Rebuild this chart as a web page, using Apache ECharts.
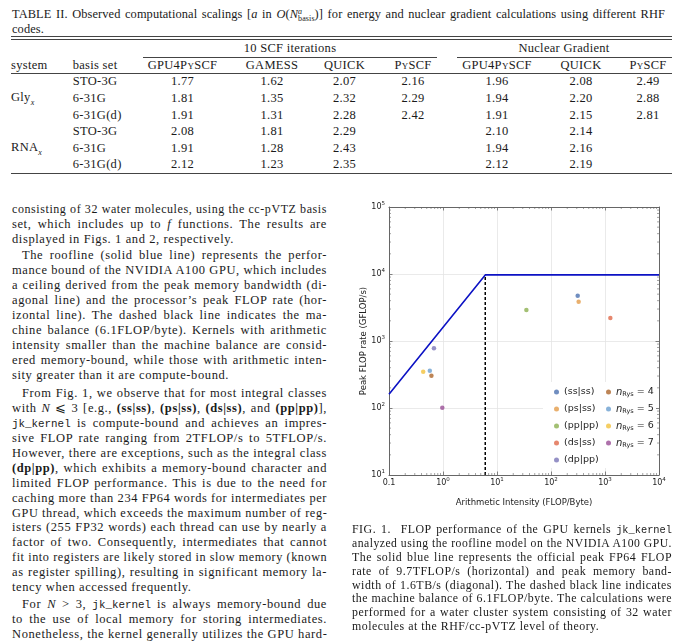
<!DOCTYPE html>
<html>
<head>
<meta charset="utf-8">
<script src="https://cdn.jsdelivr.net/npm/echarts@6/dist/echarts.min.js"></script>
<style>
  html, body { margin: 0; padding: 0; background: #fff; }
  body { width: 680px; height: 643px; position: relative; overflow: hidden; color: #1a1a1a; }
  .ln { position: absolute; white-space: nowrap; font-family: 'Liberation Serif', serif; font-size: 12.5px; letter-spacing: 0.6px; line-height: 15px; height: 15px; }
  .j { text-align: justify; text-align-last: justify; }
  .body { left: 12px; width: 315px; }
  .ind { left: 22px; width: 305px; }
  .cap { left: 352px; width: 320px; font-size: 11.9px; letter-spacing: 0.5px; line-height: 14px; height: 14px; }
  .tcap { font-size: 12.4px; letter-spacing: 0.1px; }
  tt { font-family: 'Liberation Mono', monospace; font-size: 0.87em; letter-spacing: 0; }
  .sc { font-variant: small-caps; }
  .rule { position: absolute; height: 0; border-top: 0.8px solid #444; }
  .cell { position: absolute; white-space: nowrap; font-family: 'Liberation Serif', serif; font-size: 12.5px; letter-spacing: 0.3px; line-height: 15px; height: 15px; }
  .ctr { width: 100px; text-align: center; }
  #chart { position: absolute; left: 340px; top: 195px; width: 340px; height: 330px; }
</style>
</head>
<body>

<!-- table caption -->
<div class="ln j tcap" style="left:12px;width:653px;top:7px;">TABLE II. Observed computational scalings [<i>a</i> in <i>O</i>(<i>N</i><span style="display:inline-block;vertical-align:-3px;line-height:7px;font-size:8px;text-align:left"><i>a</i><br>basis</span>)] for energy and nuclear gradient calculations using different RHF</div>
<div class="ln tcap" style="left:12px;top:22px;">codes.</div>

<div id="table"></div>

<!-- left column text -->
<div class="ln j body" style="top:202px;">consisting of 32 water molecules, using the cc-pVTZ basis</div>
<div class="ln j body" style="top:217px;">set, which includes up to <i>f</i> functions. The results are</div>
<div class="ln body" style="top:232px;">displayed in Figs. 1 and 2, respectively.</div>

<div class="ln j ind" style="top:248px;">The roofline (solid blue line) represents the perfor-</div>
<div class="ln j body" style="top:263px;">mance bound of the NVIDIA A100 GPU, which includes</div>
<div class="ln j body" style="top:278px;">a ceiling derived from the peak memory bandwidth (di-</div>
<div class="ln j body" style="top:293px;">agonal line) and the processor’s peak FLOP rate (hor-</div>
<div class="ln j body" style="top:308px;">izontal line). The dashed black line indicates the ma-</div>
<div class="ln j body" style="top:323px;">chine balance (6.1FLOP/byte). Kernels with arithmetic</div>
<div class="ln j body" style="top:338px;">intensity smaller than the machine balance are consid-</div>
<div class="ln j body" style="top:353px;">ered memory-bound, while those with arithmetic inten-</div>
<div class="ln body" style="top:368px;">sity greater than it are compute-bound.</div>

<div class="ln j ind" style="top:386px;">From Fig. 1, we observe that for most integral classes</div>
<div class="ln j body" style="top:401px;">with <i>N</i> ⩽ 3 [e.g., <b>(ss|ss)</b>, <b>(ps|ss)</b>, <b>(ds|ss)</b>, and <b>(pp|pp)</b>],</div>
<div class="ln j body" style="top:416px;"><tt>jk_kernel</tt> is compute-bound and achieves an impres-</div>
<div class="ln j body" style="top:431px;">sive FLOP rate ranging from 2TFLOP/s to 5TFLOP/s.</div>
<div class="ln j body" style="top:446px;">However, there are exceptions, such as the integral class</div>
<div class="ln j body" style="top:461px;"><b>(dp|pp)</b>, which exhibits a memory-bound character and</div>
<div class="ln j body" style="top:476px;">limited FLOP performance. This is due to the need for</div>
<div class="ln j body" style="top:491px;">caching more than 234 FP64 words for intermediates per</div>
<div class="ln j body" style="top:506px;">GPU thread, which exceeds the maximum number of reg-</div>
<div class="ln j body" style="top:520px;">isters (255 FP32 words) each thread can use by nearly a</div>
<div class="ln j body" style="top:535px;">factor of two. Consequently, intermediates that cannot</div>
<div class="ln j body" style="top:550px;">fit into registers are likely stored in slow memory (known</div>
<div class="ln j body" style="top:565px;">as register spilling), resulting in significant memory la-</div>
<div class="ln body" style="top:580px;">tency when accessed frequently.</div>

<div class="ln j ind" style="top:597px;">For <i>N</i> &gt; 3, <tt>jk_kernel</tt> is always memory-bound due</div>
<div class="ln j body" style="top:612px;">to the use of local memory for storing intermediates.</div>
<div class="ln j body" style="top:627px;">Nonetheless, the kernel generally utilizes the GPU hard-</div>

<!-- figure -->
<div id="chart"></div>

<div class="ln j cap" style="top:522px;">FIG. 1.&nbsp; FLOP performance of the GPU kernels <tt>jk_kernel</tt></div>
<div class="ln j cap" style="top:536px;">analyzed using the roofline model on the NVIDIA A100 GPU.</div>
<div class="ln j cap" style="top:550px;">The solid blue line represents the official peak FP64 FLOP</div>
<div class="ln j cap" style="top:564px;">rate of 9.7TFLOP/s (horizontal) and peak memory band-</div>
<div class="ln j cap" style="top:578px;">width of 1.6TB/s (diagonal). The dashed black line indicates</div>
<div class="ln j cap" style="top:591px;">the machine balance of 6.1FLOP/byte. The calculations were</div>
<div class="ln j cap" style="top:605px;">performed for a water cluster system consisting of 32 water</div>
<div class="ln cap" style="top:619px;">molecules at the RHF/cc-pVTZ level of theory.</div>

<script>
// ---- table data ----
const systems = ['Gly', 'RNA'];
const basisSets = ['STO-3G', '6-31G', '6-31G(d)'];
const codeHeaders = ['GPU4P<span class="sc">y</span>SCF', 'GAMESS', 'QUICK', 'P<span class="sc">y</span>SCF',
                     'GPU4P<span class="sc">y</span>SCF', 'QUICK', 'P<span class="sc">y</span>SCF'];
const scalingRows = [
  ['1.77', '1.62', '2.07', '2.16', '1.96', '2.08', '2.49'],
  ['1.81', '1.35', '2.32', '2.29', '1.94', '2.20', '2.88'],
  ['1.91', '1.31', '2.28', '2.42', '1.91', '2.15', '2.81'],
  ['2.08', '1.81', '2.29', '',     '2.10', '2.14', ''],
  ['1.91', '1.28', '2.43', '',     '1.94', '2.16', ''],
  ['2.12', '1.23', '2.35', '',     '2.12', '2.19', '']
];

// ---- chart data ----
const classNames = ['(ss|ss)', '(ps|ss)', '(pp|pp)', '(ds|ss)', '(dp|pp)'];
const classIntensity = [312, 325, 35, 1256, 0.68];
const classRate = [4750, 3865, 2900, 2204, 777];
const classColors = ['#4c72b0', '#e39c4a', '#8cb050', '#e0694a', '#7b76b8'];

const rysNames = ['nRys = 4', 'nRys = 5', 'nRys = 6', 'nRys = 7'];
const rysIntensity = [0.61, 0.57, 0.43, 0.97];
const rysRate = [304, 361, 348, 101];
const rysColors = ['#ad662c', '#6a9fd0', '#f2c23c', '#9a4e96'];

const rooflineX = [0.1, 6.06, 10000];
const rooflineY = [160, 9700, 9700];
const balanceX = [6.06, 6.06];
const balanceY = [10, 9700];

// minor log ticks (2..9 in each decade)
const minorSteps = [2, 3, 4, 5, 6, 7, 8, 9];
const xDecades = [0.1, 1, 10, 100, 1000];
const yDecades = [10, 100, 1000, 10000];

// ---- build table ----
const tbl = document.getElementById('table');
function add(html, cls, style) {
  const d = document.createElement('div');
  d.className = cls;
  d.setAttribute('style', style);
  d.innerHTML = html;
  tbl.appendChild(d);
}
const colCenters = [182.5, 272, 344.5, 413, 497, 581, 648];
const rowY = [82.3, 99, 115.7, 132.3, 148.7, 165.3];

add('', 'rule', 'left:11px;width:661px;top:36px;');
add('', 'rule', 'left:11px;width:661px;top:38.7px;');
add('10 SCF iterations', 'cell ctr', 'left:' + (290 - 50) + 'px;top:' + (49 - 8) + 'px;');
add('Nuclear Gradient', 'cell ctr', 'left:' + (564 - 50) + 'px;top:' + (49 - 8) + 'px;');
add('', 'rule', 'left:143px;width:294px;top:56.7px;');
add('', 'rule', 'left:457px;width:215px;top:56.7px;');
add('system', 'cell', 'left:11px;top:' + (65.7 - 8) + 'px;');
add('basis set', 'cell', 'left:72.7px;top:' + (65.7 - 8) + 'px;');
codeHeaders.forEach((h, i) => add(h, 'cell ctr', 'left:' + (colCenters[i] - 50) + 'px;top:' + (65.7 - 8) + 'px;'));
add('', 'rule', 'left:11px;width:661px;top:72.7px;');
scalingRows.forEach((row, r) => {
  add(basisSets[r % 3], 'cell', 'left:72.7px;top:' + (rowY[r] - 8) + 'px;');
  row.forEach((v, i) => add(v, 'cell ctr', 'left:' + (colCenters[i] - 50) + 'px;top:' + (rowY[r] - 8) + 'px;'));
});
systems.forEach((s, k) => add(s + '<sub style="font-size:8px;"><i>x</i></sub>', 'cell', 'left:11px;top:' + (rowY[1 + 3 * k] - 9) + 'px;'));
add('', 'rule', 'left:11px;width:661px;top:173.3px;');

// squeeze lines that are wider than their box
document.querySelectorAll('.j').forEach(el => {
  const w = el.clientWidth, s = el.scrollWidth;
  if (s > w + 0.5) {
    el.style.width = s + 'px';
    el.style.transformOrigin = '0 0';
    el.style.transform = 'scaleX(' + (w / s) + ')';
  }
});

// ---- chart ----
const axisColor = '#666';
const font = 'DejaVu Sans';
const powLabel = v => {
  if (v < 0.5) return '{b|0.1}';
  return '{b|10}{e|' + Math.round(Math.log10(v)) + '}';
};
const labelRich = {
  b: { fontSize: 8, lineHeight: 12, fontFamily: font, color: '#222' },
  e: { fontSize: 5.5, verticalAlign: 'top', fontFamily: font, color: '#222' }
};

function edgeAxis(extra) {
  return Object.assign({
    type: 'log',
    logBase: 10,
    axisLine: { show: true, onZero: false, lineStyle: { color: axisColor, width: 1 } },
    axisTick: { show: true, inside: true, length: 3.5, lineStyle: { color: axisColor, width: 0.8 } },
    minorTick: { show: false },
    splitLine: { show: false },
    axisLabel: { show: false }
  }, extra);
}

const xMain = {
  min: 0.1, max: 10000, position: 'bottom',
  name: 'Arithmetic Intensity (FLOP/Byte)', nameLocation: 'middle', nameGap: 23,
  nameTextStyle: { fontSize: 8.5, fontFamily: font, color: '#222' },
  axisLabel: { show: true, margin: 2, formatter: powLabel, rich: labelRich },
  splitLine: { show: true, lineStyle: { color: '#e4e4e4', width: 0.8 } }
};
const yMain = {
  min: 10, max: 100000, position: 'left',
  name: 'Peak FLOP rate (GFLOP/s)', nameLocation: 'middle', nameGap: 21, nameMoveOverlap: false,
  nameTextStyle: { fontSize: 8.5, fontFamily: font, color: '#222' },
  axisLabel: { show: true, margin: 4, formatter: powLabel, rich: labelRich },
  splitLine: { show: true, lineStyle: { color: '#e4e4e4', width: 0.8 } }
};

const scatter = (name, x, y, color) => ({
  name: name,
  type: 'scatter',
  xAxisIndex: 0, yAxisIndex: 0,
  symbolSize: 4.5,
  itemStyle: { color: color },
  data: [[x, y]],
  z: 5
});

// minor tick marks on all four sides, placed through the axis scale
const tickStyle = { stroke: axisColor, lineWidth: 0.6 };
const minorTicks = (data, vertical) => ({
  type: 'custom', xAxisIndex: 0, yAxisIndex: 0, silent: true, z: 4,
  data: data,
  renderItem: (params, api) => {
    const cs = params.coordSys;
    const p = api.coord([api.value(0), api.value(1)]);
    const lines = vertical
      ? [[p[0], cs.y + cs.height, p[0], cs.y + cs.height - 2], [p[0], cs.y, p[0], cs.y + 2]]
      : [[cs.x, p[1], cs.x + 2, p[1]], [cs.x + cs.width, p[1], cs.x + cs.width - 2, p[1]]];
    return {
      type: 'group',
      children: lines.map(l => ({
        type: 'line',
        shape: { x1: l[0], y1: l[1], x2: l[2], y2: l[3] },
        style: tickStyle
      }))
    };
  }
});
const xMinor = [];
xDecades.forEach(d => minorSteps.forEach(m => xMinor.push([d * m, 10])));
const yMinor = [];
yDecades.forEach(d => minorSteps.forEach(m => yMinor.push([0.1, d * m])));

const series = [
  {
    type: 'line', xAxisIndex: 0, yAxisIndex: 0, showSymbol: false, silent: true,
    data: rooflineX.map((x, i) => [x, rooflineY[i]]),
    lineStyle: { color: '#0c12c4', width: 1.6 }
  },
  {
    type: 'line', xAxisIndex: 0, yAxisIndex: 0, showSymbol: false, silent: true,
    data: balanceX.map((x, i) => [x, balanceY[i]]),
    lineStyle: { color: '#000', width: 1.5, type: [3, 2] }
  },
  minorTicks(xMinor, true),
  minorTicks(yMinor, false)
];
classNames.forEach((n, i) => series.push(scatter(n, classIntensity[i], classRate[i], classColors[i])));
rysNames.forEach((n, i) => series.push(scatter(n, rysIntensity[i], rysRate[i], rysColors[i])));

const legendBase = {
  orient: 'vertical', padding: 0, itemGap: 5, itemWidth: 5, itemHeight: 5,
  icon: 'circle', selectedMode: false,
  textStyle: { fontSize: 9.5, fontFamily: font, color: '#222', lineHeight: 12 }
};

const chart = echarts.init(document.getElementById('chart'));
chart.setOption({
  animation: false,
  grid: { left: 49, right: 21, top: 12, bottom: 50 },
  xAxis: [edgeAxis(xMain), edgeAxis({ min: 0.1, max: 10000, position: 'top' })],
  yAxis: [edgeAxis(yMain), edgeAxis({ min: 10, max: 100000, position: 'right' })],
  graphic: [{
    type: 'rect', z: 3, silent: true,
    shape: { x: 203, y: 187, width: 113, height: 86 },
    style: { fill: '#fff' }
  }],
  legend: [
    Object.assign({ left: 214, top: 191, data: classNames }, legendBase),
    Object.assign({
      left: 266, top: 191, data: rysNames,
      formatter: name => '{n|n}{s|Rys}{t|' + name.slice(4) + '}'
    }, legendBase, {
      textStyle: Object.assign({}, legendBase.textStyle, {
        rich: {
          n: { fontSize: 10, fontStyle: 'italic', fontFamily: font, color: '#222', lineHeight: 12 },
          s: { fontSize: 6.5, verticalAlign: 'bottom', fontFamily: font, color: '#222' },
          t: { fontSize: 9.5, fontFamily: font, color: '#222', lineHeight: 12 }
        }
      })
    })
  ],
  series: series
});
</script>
</body>
</html>
